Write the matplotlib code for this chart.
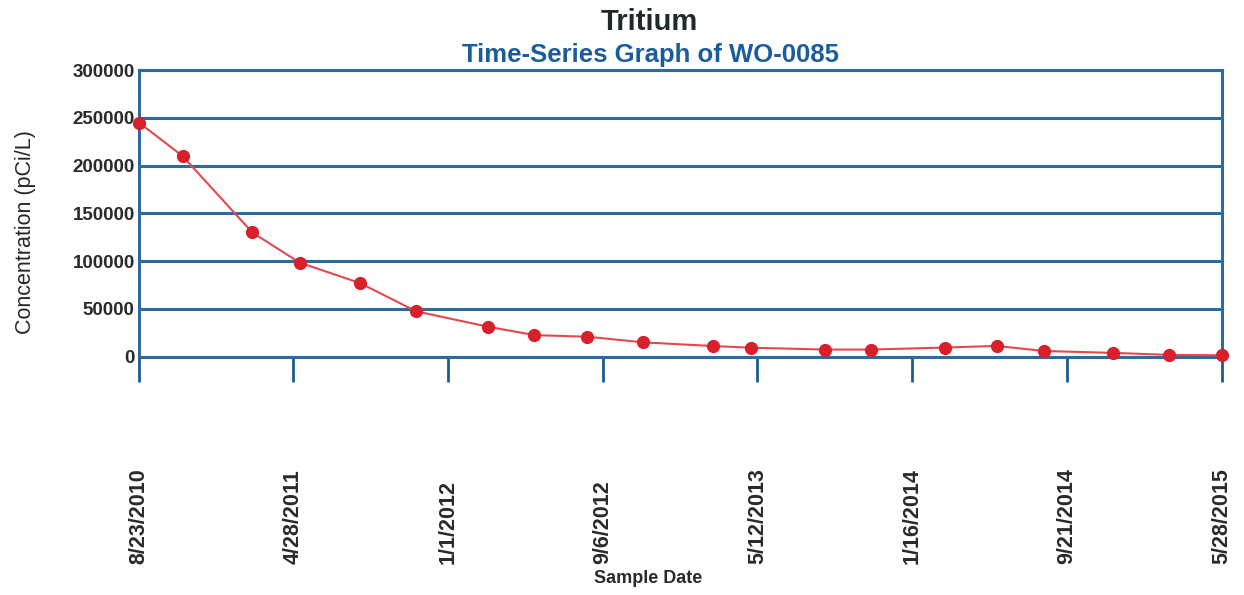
import pandas as pd
import matplotlib
matplotlib.use("Agg")
import matplotlib.pyplot as plt

# Tritium samples
sample_dates = ['2010-08-23', '2010-11-01', '2011-02-21', '2011-05-08', '2011-08-13',
                '2011-11-11', '2012-03-06', '2012-05-19', '2012-08-12', '2012-11-10',
                '2013-03-01', '2013-05-01', '2013-08-28', '2013-11-11', '2014-03-10',
                '2014-05-31', '2014-08-15', '2014-12-04', '2015-03-04', '2015-05-28']
concentration = [245000, 210000, 130000, 98500, 77000,
                 47500, 31300, 22600, 20900, 15000,
                 11200, 9400, 7500, 7500, 9600,
                 11300, 6000, 4000, 1900, 1500]

tick_dates = ['2010-08-23', '2011-04-28', '2012-01-01', '2012-09-06',
              '2013-05-12', '2014-01-16', '2014-09-21', '2015-05-28']
tick_labels = ['8/23/2010', '4/28/2011', '1/1/2012', '9/6/2012',
               '5/12/2013', '1/16/2014', '9/21/2014', '5/28/2015']
y_ticks = [0, 50000, 100000, 150000, 200000, 250000, 300000]

plt.rcParams['font.family'] = ['Liberation Sans', 'DejaVu Sans']

blue = '#2d6aa0'
fig = plt.figure(figsize=(12.44, 5.95), dpi=100)
ax = fig.add_axes([0.1117, 0.4005, 0.8706, 0.4818])

x = pd.to_datetime(sample_dates)
ax.plot(x, concentration, color='#e2494f', lw=1.5, zorder=3, clip_on=False)
ax.plot(x, concentration, 'o', color='#d7202b', ms=8.5, zorder=4, clip_on=False)

ax.set_xlim(pd.Timestamp(tick_dates[0]), pd.Timestamp(tick_dates[-1]))
ax.set_ylim(0, 300000)

ax.set_yticks(y_ticks)
ax.set_yticklabels([str(v) for v in y_ticks], fontsize=13.5, fontweight='bold', color='#2a2a2a')
ax.tick_params(axis='y', length=0, pad=3)
ax.grid(axis='y', color=blue, lw=2.2)
ax.set_axisbelow(True)

ax.set_xticks(pd.to_datetime(tick_dates))
ax.set_xticklabels(tick_labels, rotation=90, va='bottom', fontsize=15.5,
                   fontweight='bold', color='#2a2a2a')
ax.tick_params(axis='x', direction='out', length=18, width=2, color='#1f5a8c', pad=131)

for side in ['left', 'top', 'right', 'bottom']:
    ax.spines[side].set_color(blue)
    ax.spines[side].set_linewidth(2.2)

ax.set_ylabel('Concentration (pCi/L)', fontsize=15.5, fontweight='medium', color='#262626')
ax.yaxis.set_label_coords(-0.0955, 0.435)
fig.text(0.521, 0.027, 'Sample Date', ha='center', va='center', fontsize=13,
         fontweight='bold', color='#2a2a2a')

fig.text(0.522, 0.963, 'Tritium', ha='center', va='center', fontsize=21,
         fontweight='bold', color='#1e2a30')
fig.text(0.523, 0.908, 'Time-Series Graph of WO-0085', ha='center', va='center',
         fontsize=18.5, fontweight='bold', color='#1b5c9c')

fig.savefig('out.png', dpi=100)
